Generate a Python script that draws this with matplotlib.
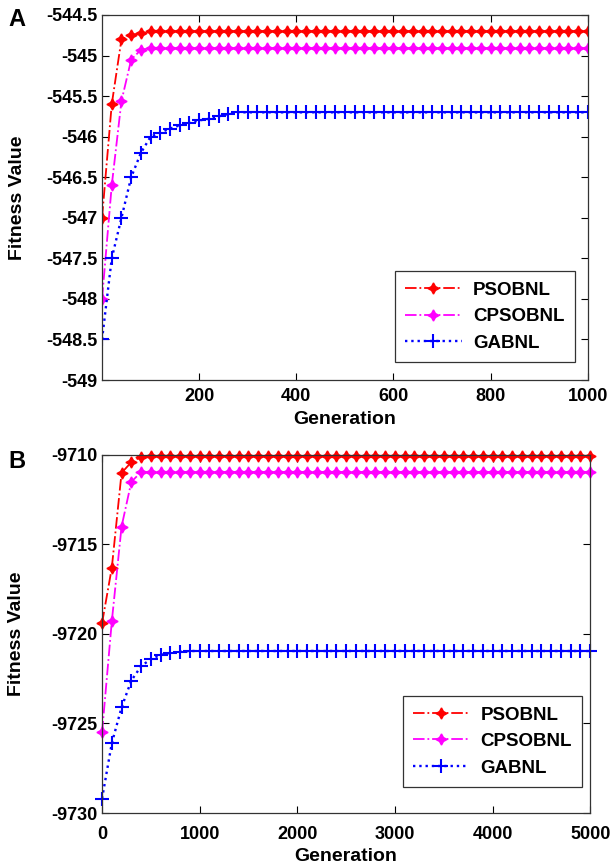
import matplotlib
matplotlib.use("Agg")
import matplotlib.pyplot as plt
from matplotlib.ticker import FuncFormatter
import numpy as np

plt.rcParams['font.family'] = ['Liberation Sans', 'DejaVu Sans']
plt.rcParams['font.weight'] = 'bold'
plt.rcParams['axes.unicode_minus'] = False

# ---- Panel A data (generation, every 20) ----
gen_a = list(range(0, 1001, 20))
pso_a_head = [-547.0, -545.6, -544.8, -544.75, -544.72]
cpso_a_head = [-548.0, -546.6, -545.56, -545.05, -544.93]
ga_a_head = [-548.5, -547.5, -547.0, -546.5, -546.2, -546.0, -545.95, -545.9,
             -545.86, -545.83, -545.8, -545.78, -545.75, -545.72]
pso_a = pso_a_head + [-544.7] * (len(gen_a) - len(pso_a_head))
cpso_a = cpso_a_head + [-544.91] * (len(gen_a) - len(cpso_a_head))
ga_a = ga_a_head + [-545.7] * (len(gen_a) - len(ga_a_head))

# ---- Panel B data (generation, every 100) ----
gen_b = list(range(0, 5001, 100))
pso_b_head = [-9719.4, -9716.3, -9711.0, -9710.4, -9710.1]
cpso_b_head = [-9725.5, -9719.3, -9714.0, -9711.5, -9710.95]
ga_b_head = [-9729.2, -9726.1, -9724.1, -9722.6, -9721.8, -9721.4, -9721.17,
             -9721.05, -9721.0]
pso_b = pso_b_head + [-9710.05] * (len(gen_b) - len(pso_b_head))
cpso_b = cpso_b_head + [-9710.95] * (len(gen_b) - len(cpso_b_head))
ga_b = ga_b_head + [-9720.95] * (len(gen_b) - len(ga_b_head))

labels = ['PSOBNL', 'CPSOBNL', 'GABNL']
xticks_a = [200, 400, 600, 800, 1000]
yticks_a = list(np.arange(-549, -544.49, 0.5))
xticks_b = [0, 1000, 2000, 3000, 4000, 5000]
yticks_b = [-9730, -9725, -9720, -9715, -9710]

fig = plt.figure(figsize=(6.11, 8.66), dpi=100)
axA = fig.add_axes([0.167, 0.5612, 0.795, 0.4215])
axB = fig.add_axes([0.167, 0.0612, 0.799, 0.4134])

star = (4, 1, 0)
fmt = FuncFormatter(lambda v, p: '%g' % v)
TICK_FS = 13
LAB_FS = 14
LEG_FS = 13.5


def draw(ax, g, pso, cpso, ga, clip, xpad):
    ax.plot(g, pso, color='red', linestyle='-.', marker=star, markersize=8,
            lw=1.3, label=labels[0], clip_on=clip)
    ax.plot(g, cpso, color='magenta', linestyle='-.', marker=star, markersize=8,
            lw=1.3, label=labels[1], clip_on=clip)
    ax.plot(g, ga, color='blue', linestyle=':', marker='+', markersize=10,
            markeredgewidth=1.5, lw=1.7, label=labels[2], clip_on=clip)
    ax.tick_params(direction='in', top=True, right=True, labelsize=TICK_FS,
                   length=5, width=0.8, pad=3)
    ax.tick_params(axis='x', pad=xpad)
    for s in ax.spines.values():
        s.set_linewidth(0.9)
        s.set_color('#333333')
    ax.set_ylabel('Fitness Value', fontsize=LAB_FS, fontweight='bold')
    ax.yaxis.set_label_coords(-0.157, 0.5)
    ax.set_xlabel('Generation', fontsize=LAB_FS, fontweight='bold', labelpad=4)


def finish(ax, leg_anchor):
    ax.yaxis.set_major_formatter(fmt)
    for t in ax.get_xticklabels() + ax.get_yticklabels():
        t.set_fontweight('bold')
    leg = ax.legend(loc='lower right', bbox_to_anchor=leg_anchor, fontsize=LEG_FS,
                    fancybox=False, edgecolor='#333333', framealpha=1,
                    handlelength=3.0, borderpad=0.55, labelspacing=0.5,
                    handletextpad=0.6, borderaxespad=0)
    leg.get_frame().set_linewidth(0.9)
    for t in leg.get_texts():
        t.set_fontweight('bold')


draw(axA, gen_a, pso_a, cpso_a, ga_a, True, 6)
axA.set_xlim(0, 1000)
axA.set_ylim(-549, -544.5)
axA.set_xticks(xticks_a)
axA.set_yticks(yticks_a)
finish(axA, (0.973, 0.049))

draw(axB, gen_b, pso_b, cpso_b, ga_b, False, 9)
axB.set_xlim(0, 5000)
axB.set_ylim(-9730, -9710)
axB.set_xticks(xticks_b)
axB.set_yticks(yticks_b)
finish(axB, (0.984, 0.073))

fig.text(0.013, 0.977, 'A', fontsize=17, fontweight='bold', va='center')
fig.text(0.013, 0.467, 'B', fontsize=17, fontweight='bold', va='center')

fig.savefig('out.png', dpi=100)
